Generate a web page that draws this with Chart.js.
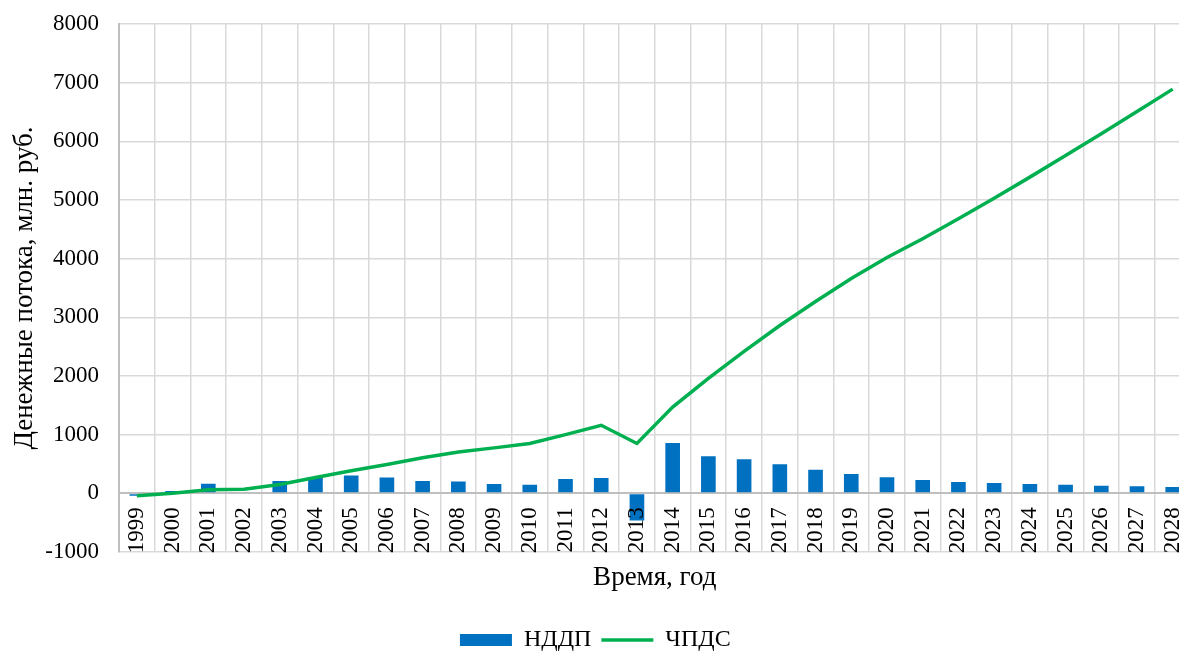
<!DOCTYPE html>
<html>
<head>
<meta charset="utf-8">
<script src="https://cdn.jsdelivr.net/npm/chart.js@4"></script>
<style>
  html, body { margin: 0; padding: 0; background: #fff; overflow: hidden; }
  .chart-box { position: relative; width: 1179px; height: 652px; overflow: hidden; }
  canvas { display: block; }
</style>
</head>
<body>
<div class="chart-box">
  <canvas id="chart" width="1200" height="662"></canvas>
</div>
<script>
const years = ['1999', '2000', '2001', '2002', '2003', '2004', '2005', '2006', '2007', '2008',
  '2009', '2010', '2011', '2012', '2013', '2014', '2015', '2016', '2017', '2018',
  '2019', '2020', '2021', '2022', '2023', '2024', '2025', '2026', '2027', '2028'];

// НДДП - bars
const nddp = [-40, 40, 165, 20, 211, 280, 302, 268, 211, 200,
  160, 148, 245, 262, -462, 856, 633, 582, 497, 400,
  331, 274, 228, 194, 177, 160, 148, 131, 120, 108];

// ЧПДС - line
const chpds = [-40, 0, 60, 70, 150, 270, 385, 490, 605, 705,
  775, 850, 1000, 1160, 850, 1470, 1960, 2420, 2860, 3270,
  3660, 4020, 4340, 4680, 5030, 5390, 5760, 6130, 6510, 6890];

const yTicks = [-1000, 0, 1000, 2000, 3000, 4000, 5000, 6000, 7000, 8000];

const serif = "'Liberation Serif', 'Times New Roman', serif";

// year labels sit on the zero line, inside the plot, like in Excel
const zeroLabels = {
  id: 'zeroLabels',
  afterDatasetsDraw(chart) {
    const ctx = chart.ctx;
    const xs = chart.scales.x;
    const y0 = chart.scales.y.getPixelForValue(0);
    ctx.save();
    ctx.font = '23px ' + serif;
    ctx.fillStyle = '#000';
    ctx.textAlign = 'right';
    ctx.textBaseline = 'middle';
    years.forEach((label, i) => {
      ctx.save();
      ctx.translate(xs.getPixelForValue(i), y0 + 14);
      ctx.rotate(-Math.PI / 2);
      ctx.fillText(label, 0, 0);
      ctx.restore();
    });
    ctx.restore();
  }
};

new Chart(document.getElementById('chart'), {
  type: 'bar',
  data: {
    labels: years,
    datasets: [{
      label: 'НДДП',
      data: nddp,
      backgroundColor: '#0070C0',
      borderWidth: 0,
      barPercentage: 0.41,
      categoryPercentage: 1,
      pointStyle: 'rect',
      order: 1
    }, {
      type: 'line',
      label: 'ЧПДС',
      data: chpds,
      borderColor: '#00B050',
      backgroundColor: '#00B050',
      borderWidth: 3.5,
      pointRadius: 0,
      tension: 0,
      pointStyle: 'line',
      order: 0
    }]
  },
  options: {
    responsive: false,
    animation: false,
    layout: { padding: { top: 24, right: 9.4, left: 0, bottom: 0 } },
    plugins: {
      tooltip: { enabled: false },
      legend: {
        position: 'bottom',
        labels: {
          usePointStyle: true,
          pointStyleWidth: 52,
          boxHeight: 12,
          padding: 10,
          color: '#000',
          font: { family: serif, size: 24 },
          sort: (a, b) => a.datasetIndex - b.datasetIndex
        }
      }
    },
    scales: {
      x: {
        ticks: { display: false },
        grid: { color: '#d9d9d9', lineWidth: 1.5, drawTicks: false },
        border: { display: false },
        title: {
          display: true,
          text: 'Время, год',
          color: '#000',
          font: { family: serif, size: 27 },
          padding: { top: 9.8, bottom: 23.8 }
        }
      },
      y: {
        min: yTicks[0],
        max: yTicks[yTicks.length - 1],
        afterBuildTicks: (scale) => { scale.ticks = yTicks.map(v => ({ value: v })); },
        afterFit: (scale) => {
          scale.width = 119;
          scale.paddingTop = 0;
          scale.paddingBottom = 0;
        },
        ticks: {
          color: '#000',
          padding: 20,
          font: { family: serif, size: 23 },
          callback: (v) => String(v)
        },
        grid: {
          color: (c) => (c.tick && c.tick.value === 0 ? '#bfbfbf' : '#d9d9d9'),
          lineWidth: (c) => (c.tick && c.tick.value === 0 ? 2 : 1.5),
          drawTicks: false
        },
        border: { color: '#bfbfbf', width: 2 },
        title: {
          display: true,
          text: 'Денежные потока, млн. руб.',
          color: '#000',
          font: { family: serif, size: 27 },
          padding: { top: 9, bottom: 0 }
        }
      }
    }
  },
  plugins: [zeroLabels]
});
</script>
</body>
</html>
